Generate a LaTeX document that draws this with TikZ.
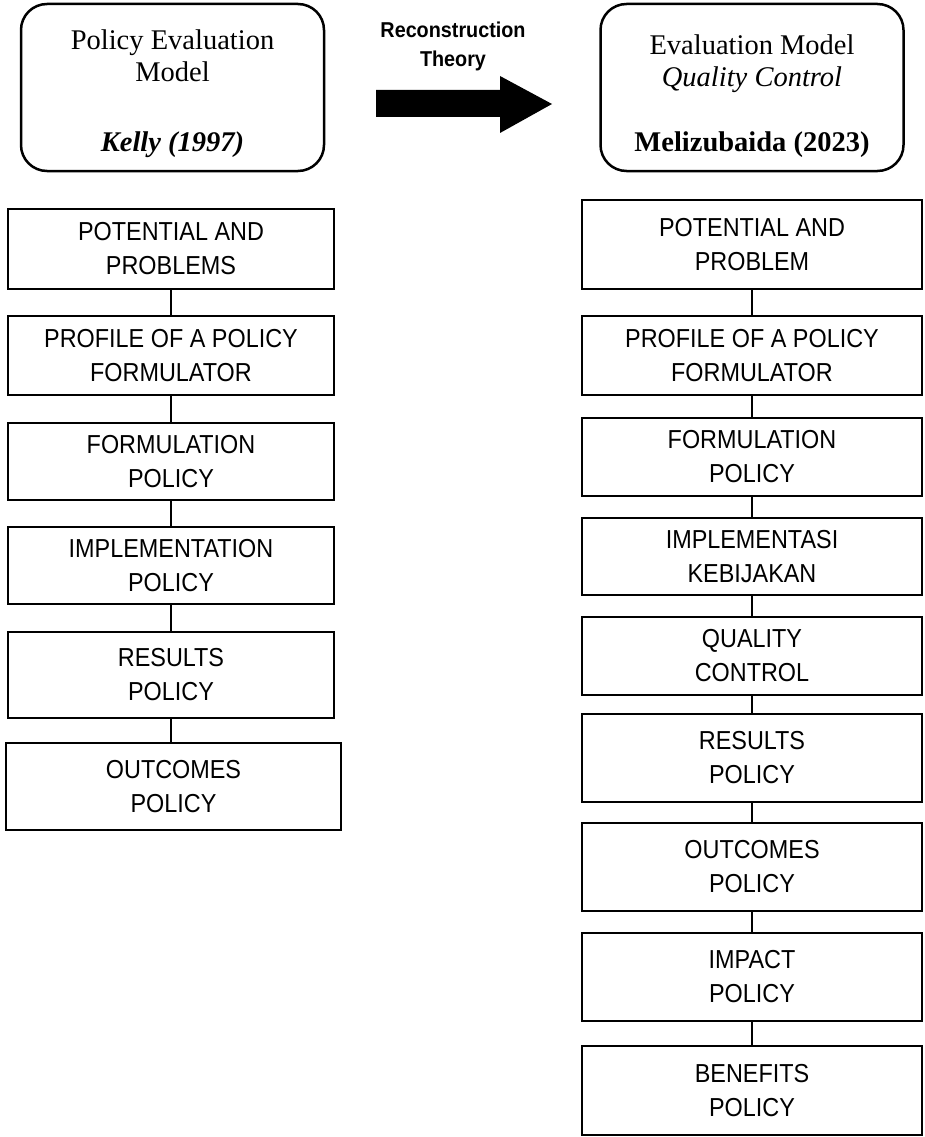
\documentclass[tikz,border=0pt]{standalone}
\usepackage{fontspec}
\setmainfont{Liberation Serif}
\newfontfamily\arialn[FakeStretch=0.9]{Liberation Sans}
\newfontfamily\arialr[FakeStretch=0.92]{Liberation Sans}
\begin{document}
\begin{tikzpicture}[x=1pt,y=-1pt,
  stepbox/.style={draw=black, line width=2.9pt, fill=white, align=center, inner sep=0pt,
    font=\arialn\fontsize{26}{34}\selectfont, minimum width=326pt},
  rstep/.style={stepbox, minimum width=340pt},
  headbox/.style={draw=black, line width=2.5pt, rounded corners=26pt, minimum width=303pt,
    minimum height=167pt, inner sep=0pt},
  headtxt/.style={anchor=base, inner sep=0pt, font=\fontsize{28.5}{32}\selectfont},
  conn/.style={line width=2.7pt}]
\useasboundingbox (0,0) rectangle (925,1137);

% header boxes
\node[headbox] (lhead) at (172.5,87.5) {};
\node[headtxt] (lh1) at (172.5,49.5) {Policy Evaluation};
\node[headtxt] (lh2) at (172.5,81.5) {Model};
\node[headtxt] (lh3) at (172.5,151.5) {\textbf{\textit{Kelly (1997)}}};

\node[headbox] (rhead) at (752,87.5) {};
\node[headtxt] (rh1) at (752,54.5) {Evaluation Model};
\node[headtxt] (rh2) at (752,86.5) {\textit{Quality Control}};
\node[headtxt] (rh3) at (752,151.5) {\textbf{Melizubaida (2023)}};

% big arrow
\fill[black] (376,90) -- (500,90) -- (500,76) -- (552,104) -- (500,133) -- (500,117) -- (376,117) -- cycle;
\node[align=center, inner sep=0pt, font=\arialr\bfseries\fontsize{21.5}{29}\selectfont] (recon) at (453,46) {Reconstruction\\Theory};

% left column
\node[stepbox, minimum height=80pt] (l1) at (171,249) {POTENTIAL AND\\PROBLEMS};
\node[stepbox, minimum height=79pt] (l2) at (171,355.5) {PROFILE OF A POLICY\\FORMULATOR};
\node[stepbox, minimum height=77pt] (l3) at (171,461.5) {FORMULATION\\POLICY};
\node[stepbox, minimum height=77pt] (l4) at (171,565.5) {IMPLEMENTATION\\POLICY};
\node[stepbox, minimum height=86pt] (l5) at (171,675) {RESULTS\\POLICY};
\node[stepbox, minimum height=87pt, minimum width=335pt] (l6) at (173.5,786.5) {OUTCOMES\\POLICY};

\draw[conn] (l1.south) -- (l2.north);
\draw[conn] (l2.south) -- (l3.north);
\draw[conn] (l3.south) -- (l4.north);
\draw[conn] (l4.south) -- (l5.north);
\draw[conn] (l5.south) -- (l5.south |- l6.north);

% right column
\node[rstep, minimum height=89pt] (r1) at (752,244.5) {POTENTIAL AND\\PROBLEM};
\node[rstep, minimum height=79pt] (r2) at (752,355.5) {PROFILE OF A POLICY\\FORMULATOR};
\node[rstep, minimum height=78pt] (r3) at (752,457) {FORMULATION\\POLICY};
\node[rstep, minimum height=77pt] (r4) at (752,556.5) {IMPLEMENTASI\\KEBIJAKAN};
\node[rstep, minimum height=78pt] (r5) at (752,656) {QUALITY\\CONTROL};
\node[rstep, minimum height=88pt] (r6) at (752,758) {RESULTS\\POLICY};
\node[rstep, minimum height=88pt] (r7) at (752,867) {OUTCOMES\\POLICY};
\node[rstep, minimum height=88pt] (r8) at (752,977) {IMPACT\\POLICY};
\node[rstep, minimum height=89pt] (r9) at (752,1090.5) {BENEFITS\\POLICY};

\draw[conn] (r1.south) -- (r2.north);
\draw[conn] (r2.south) -- (r3.north);
\draw[conn] (r3.south) -- (r4.north);
\draw[conn] (r4.south) -- (r5.north);
\draw[conn] (r5.south) -- (r6.north);
\draw[conn] (r6.south) -- (r7.north);
\draw[conn] (r7.south) -- (r8.north);
\draw[conn] (r8.south) -- (r9.north);
\end{tikzpicture}
\end{document}
